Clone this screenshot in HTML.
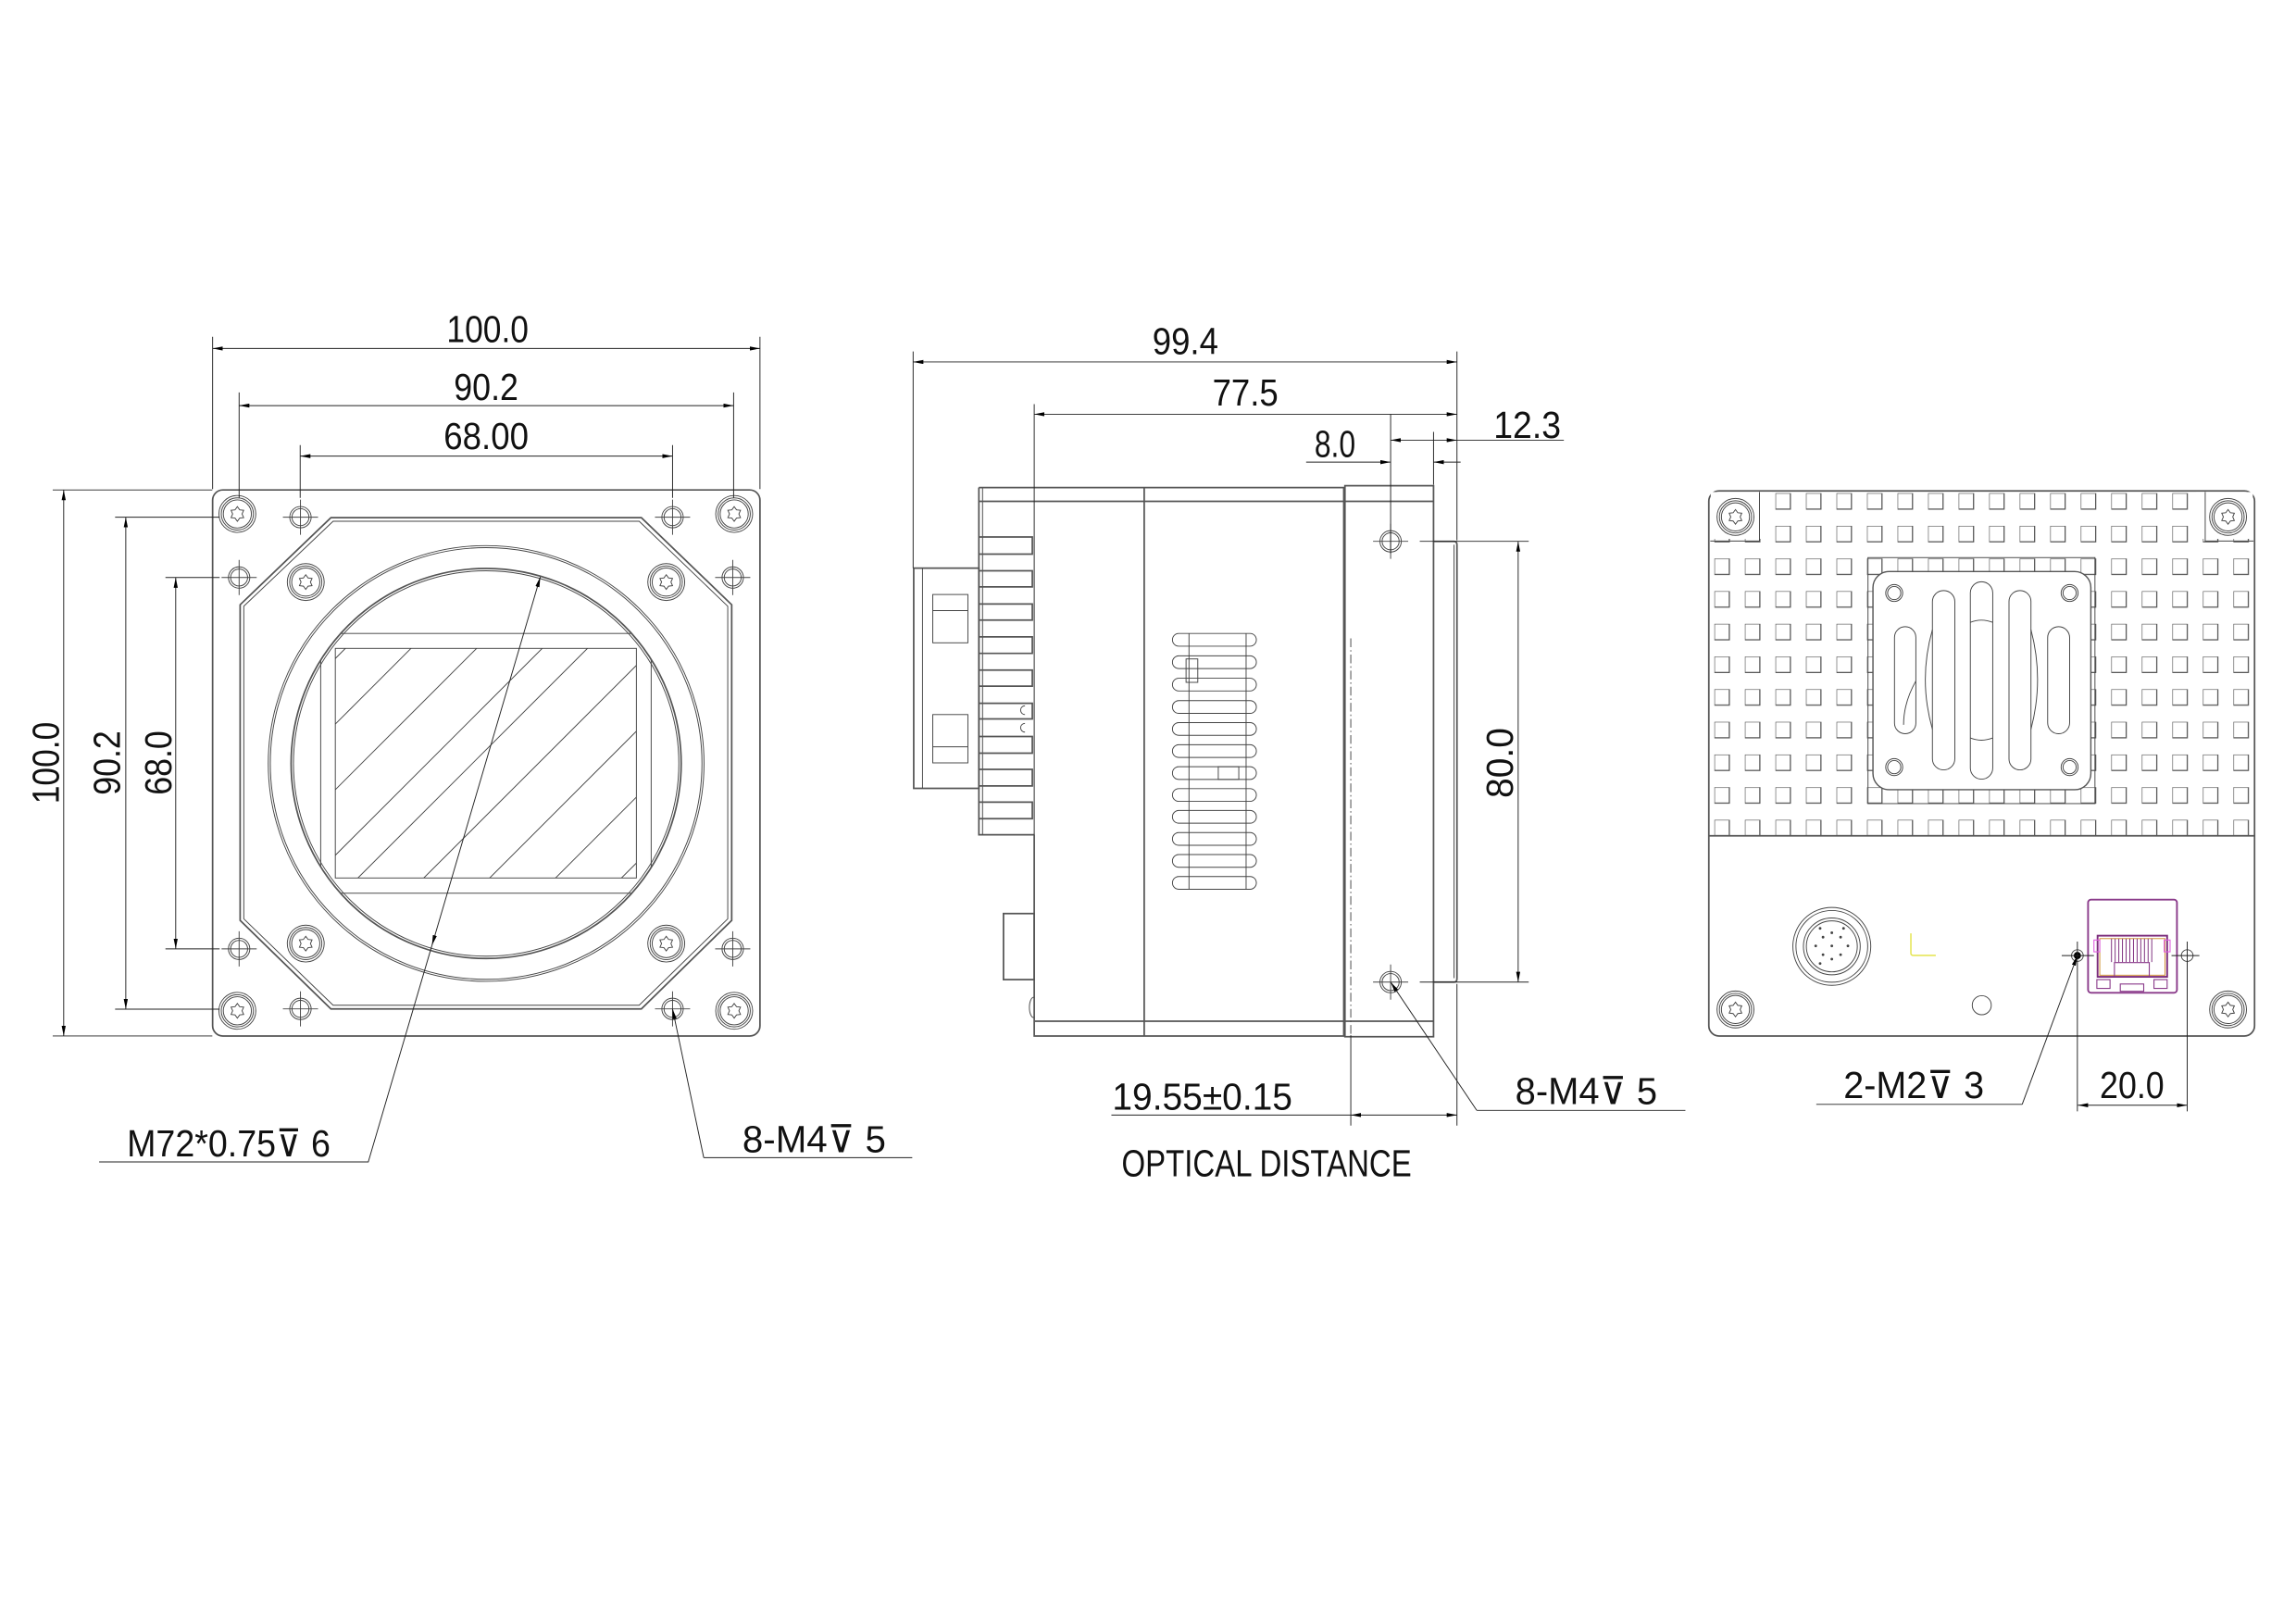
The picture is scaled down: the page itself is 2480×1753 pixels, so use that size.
<!DOCTYPE html>
<html><head><meta charset="utf-8"><style>
html,body{margin:0;padding:0;background:#fff;}
svg{display:block;}
text{font-family:"Liberation Sans","DejaVu Sans",sans-serif;font-size:26px;fill:#111;}
.b{fill:none;stroke:#555;stroke-width:1.1;}
.t{fill:none;stroke:#444;stroke-width:0.6;}
.d{fill:none;stroke:#222;stroke-width:0.6;}
.w{fill:#fff;stroke:#555;stroke-width:0.9;}
</style></head><body>
<svg width="2480" height="1753" viewBox="0 0 1568 1108.4" preserveAspectRatio="none" xmlns="http://www.w3.org/2000/svg">
<defs>
<marker id="a" viewBox="0 0 10 4" refX="10" refY="2" markerWidth="7" markerHeight="2.8" orient="auto-start-reverse" markerUnits="userSpaceOnUse"><path d="M0,0 L10,2 L0,4z" fill="#000"/></marker>
<symbol id="scr" viewBox="-14 -14 28 28" overflow="visible">
<circle r="12.6" class="t"/><circle r="11" class="t"/><circle r="9.6" class="t"/>
<path d="M0,-5 L1.6,-2.8 4.3,-2.5 3.2,0 4.3,2.5 1.6,2.8 0,5 -1.6,2.8 -4.3,2.5 -3.2,0 -4.3,-2.5 -1.6,-2.8z" class="t"/>
</symbol>
<symbol id="hole" viewBox="-14 -14 28 28" overflow="visible">
<circle r="7.3" class="t"/><circle r="5.8" class="t"/><path d="M-12,0H12M0,-12V12" class="t"/>
</symbol>
<pattern id="grid" x="1170.8" y="336.8" width="20.85" height="22.31" patternUnits="userSpaceOnUse">
<rect x="0" y="0" width="10.2" height="10.9" fill="none" stroke="#555" stroke-width="0.8"/>
</pattern>
<clipPath id="cin"><circle cx="332" cy="521.4" r="133"/></clipPath>
<clipPath id="sens"><rect x="229" y="442.8" width="205.6" height="156.8"/></clipPath>
<clipPath id="gclip"><rect x="1168" y="335.5" width="371" height="235.3"/></clipPath>
</defs>

<!-- ================= FRONT VIEW ================= -->
<rect x="145.2" y="334.6" width="373.8" height="372.9" rx="7" class="b" stroke-width="1.4"/>
<path d="M226,353.5 H438 L499.7,413 V628.6 L438,689 H226 L164,628.6 V413 Z" class="b" stroke-width="1.4"/>
<path d="M227.5,356 H436.5 L497,414 V627.5 L436.5,686.5 H227.5 L166.5,627.5 V414 Z" class="t"/>
<circle cx="332" cy="521.4" r="148.8" class="t"/>
<circle cx="332" cy="521.4" r="147.4" class="t"/>
<circle cx="332" cy="521.4" r="133.2" class="b"/>
<circle cx="332" cy="521.4" r="131.6" class="t"/>
<rect x="219" y="432.6" width="225.7" height="177.4" class="t" clip-path="url(#cin)"/>
<rect x="229" y="442.8" width="205.6" height="156.8" class="t"/>
<g clip-path="url(#sens)" class="t">
<path d="M229,449.7 L236,442.7 M229,494.5 L281,442.5 M229,539.3 L326,442.3 M229,584.1 L371,442.1 M244,600 L416,428 M289,600 L461,428 M334,600 L506,428 M379,600 L551,428 M424,600 L596,428"/>
</g>
<!-- corner screws -->
<use href="#scr" x="148.1" y="337" width="28" height="28"/>
<use href="#scr" x="487.4" y="337" width="28" height="28"/>
<use href="#scr" x="148.1" y="676.3" width="28" height="28"/>
<use href="#scr" x="487.4" y="676.3" width="28" height="28"/>
<!-- hex screws -->
<use href="#scr" x="194.8" y="383.5" width="28" height="28"/>
<use href="#scr" x="441" y="383.5" width="28" height="28"/>
<use href="#scr" x="194.8" y="630.4" width="28" height="28"/>
<use href="#scr" x="441" y="630.4" width="28" height="28"/>
<!-- small holes -->
<use href="#hole" x="191.2" y="339.2" width="28" height="28"/>
<use href="#hole" x="445.3" y="339.2" width="28" height="28"/>
<use href="#hole" x="149.3" y="380.4" width="28" height="28"/>
<use href="#hole" x="486.4" y="380.4" width="28" height="28"/>
<use href="#hole" x="149.3" y="634" width="28" height="28"/>
<use href="#hole" x="486.4" y="634" width="28" height="28"/>
<use href="#hole" x="191.2" y="675" width="28" height="28"/>
<use href="#hole" x="445.3" y="675" width="28" height="28"/>
<!-- front dims -->
<path class="d" d="M145.2,230 V334 M519,230 V334 M163.3,268 V340 M501,268 V340 M205,304 V340 M459.3,304 V340"/>
<path class="d" d="M145.2,238 H519" marker-start="url(#a)" marker-end="url(#a)"/>
<path class="d" d="M163.3,277 H501" marker-start="url(#a)" marker-end="url(#a)"/>
<path class="d" d="M205,311.5 H459.3" marker-start="url(#a)" marker-end="url(#a)"/>
<text x="305" y="233.5" textLength="56" lengthAdjust="spacingAndGlyphs">100.0</text>
<text x="310" y="273" textLength="44" lengthAdjust="spacingAndGlyphs">90.2</text>
<text x="303" y="306.7" textLength="58" lengthAdjust="spacingAndGlyphs">68.00</text>
<path class="d" d="M36,334.6 H145 M36,707.5 H145 M78.6,353.2 H150 M78.6,689.2 H150 M113,394.4 H150 M113,648 H150"/>
<path class="d" d="M43.5,334.6 V707.5" marker-start="url(#a)" marker-end="url(#a)"/>
<path class="d" d="M85.9,353.2 V689.2" marker-start="url(#a)" marker-end="url(#a)"/>
<path class="d" d="M120,394.4 V648" marker-start="url(#a)" marker-end="url(#a)"/>
<text transform="translate(40,549) rotate(-90)" textLength="56" lengthAdjust="spacingAndGlyphs">100.0</text>
<text transform="translate(82,543) rotate(-90)" textLength="44" lengthAdjust="spacingAndGlyphs">90.2</text>
<text transform="translate(117,543) rotate(-90)" textLength="44" lengthAdjust="spacingAndGlyphs">68.0</text>
<!-- leaders -->
<path class="d" d="M295,645.6 L369,394" marker-start="url(#a)" marker-end="url(#a)"/>
<path class="d" d="M295,645.6 L251.5,793.5 H67.7"/>
<text x="86.7" y="789.7" textLength="139" lengthAdjust="spacingAndGlyphs">M72*0.75⊽ 6</text>
<path class="d" d="M480.6,790.6 L459.3,689" marker-end="url(#a)"/>
<path class="d" d="M480.6,790.6 H623"/>
<text x="507" y="786.8" textLength="98" lengthAdjust="spacingAndGlyphs">8-M4⊽ 5</text>

<!-- ================= SIDE VIEW ================= -->
<!-- connector block -->
<rect x="624" y="388" width="44.5" height="150.4" class="b"/>
<path class="t" d="M630,388 V538.4"/>
<rect x="637" y="406" width="24" height="33" class="t"/><path class="t" d="M637,417 H661"/>
<rect x="637" y="488" width="24" height="33" class="t"/><path class="t" d="M637,510 H661"/>
<!-- heatsink -->
<path class="b" d="M668.5,333 V570.1 H706.3"/>
<path class="t" d="M671,333 V570"/>
<path class="b" d="M668.5,366.7 H705 V378.4 H668.5 M668.5,389.8 H705 V400.8 H668.5 M668.5,412.5 H705 V423.5 H668.5 M668.5,434.9 H705 V446.2 H668.5 M668.5,457.6 H705 V468.6 H668.5 M668.5,480.3 H705 V491 H668.5 M668.5,503 H705 V514.4 H668.5 M668.5,525.4 H705 V536.7 H668.5 M668.5,547.8 H705 V559.1 H668.5"/>
<path class="t" d="M700,482 a3,3 0 0 0 0,6 M700,494 a3,3 0 0 0 0,6"/>
<!-- body -->
<path class="b" d="M668.5,333 H918.5 M706.3,570 V707.5 H918.5 M668.5,342.4 H979 M706.3,697.4 H979"/>
<path class="b" d="M781.4,333 V707.5" stroke-width="1.6"/>
<path class="b" d="M917.7,333 V707.5" stroke-width="1.6"/>
<rect x="918.5" y="331.7" width="60.5" height="376.3" class="b"/>
<rect x="685.3" y="623.9" width="21" height="45.1" class="b"/>
<path class="t" d="M706,681 a3,7 0 0 0 0,14"/>
<!-- lens mount -->
<path class="b" d="M979,369.7 H993 Q995,369.7 995,372 V668.5 Q995,670.7 993,670.7 H979"/>
<path class="t" d="M993,372 V668"/>
<!-- vents -->
<g class="t">
<rect x="800.7" y="432.6" width="57.3" height="8.7" rx="4.3"/>
<rect x="800.7" y="447.9" width="57.3" height="8.7" rx="4.3"/>
<rect x="800.7" y="463.2" width="57.3" height="8.7" rx="4.3"/>
<rect x="800.7" y="478.5" width="57.3" height="8.7" rx="4.3"/>
<rect x="800.7" y="493.5" width="57.3" height="8.7" rx="4.3"/>
<rect x="800.7" y="508.6" width="57.3" height="8.7" rx="4.3"/>
<rect x="800.7" y="523.6" width="57.3" height="8.7" rx="4.3"/>
<rect x="800.7" y="538.6" width="57.3" height="8.7" rx="4.3"/>
<rect x="800.7" y="553.5" width="57.3" height="8.7" rx="4.3"/>
<rect x="800.7" y="568.6" width="57.3" height="8.7" rx="4.3"/>
<rect x="800.7" y="583.6" width="57.3" height="8.7" rx="4.3"/>
<rect x="800.7" y="598.6" width="57.3" height="8.7" rx="4.3"/>
<path d="M812,432.6 V607.3 M851,432.6 V607.3"/>
<rect x="810" y="450" width="8" height="16"/><rect x="832" y="523.6" width="14" height="8.7"/>
</g>
<!-- holes side -->
<use href="#hole" x="935.7" y="355.7" width="28" height="28"/>
<use href="#hole" x="935.7" y="656.7" width="28" height="28"/>
<path class="t" d="M922.5,436 V707" stroke-dasharray="6,2,1,2"/>
<!-- side dims -->
<path class="d" d="M623.6,240 V388 M995,240 V369 M706.3,276 V570 M949.7,283 V378 M979,295 V331"/>
<path class="d" d="M623.6,247.2 H995" marker-start="url(#a)" marker-end="url(#a)"/>
<path class="d" d="M706.3,282.9 H995" marker-start="url(#a)" marker-end="url(#a)"/>
<path class="d" d="M949.7,300.6 H995" marker-start="url(#a)" marker-end="url(#a)"/>
<path class="d" d="M995,300.6 H1068"/>
<path class="d" d="M892,315.6 H949.7" marker-end="url(#a)"/>
<path class="d" d="M997.5,315.6 H979" marker-end="url(#a)"/>
<text x="787" y="242" textLength="45" lengthAdjust="spacingAndGlyphs">99.4</text>
<text x="828" y="277" textLength="45" lengthAdjust="spacingAndGlyphs">77.5</text>
<text x="897.7" y="312" textLength="28" lengthAdjust="spacingAndGlyphs">8.0</text>
<text x="1020" y="299" textLength="46" lengthAdjust="spacingAndGlyphs">12.3</text>
<path class="d" d="M969.6,369.7 H1044 M969.6,670.7 H1044"/>
<path class="d" d="M1036.8,369.7 V670.7" marker-start="url(#a)" marker-end="url(#a)"/>
<text transform="translate(1033,545) rotate(-90)" textLength="48" lengthAdjust="spacingAndGlyphs">80.0</text>
<path class="d" d="M922.5,707 V768.7 M995,672 V768.7"/>
<path class="d" d="M759,761.5 H922.5"/>
<path class="d" d="M922.5,761.5 H995" marker-start="url(#a)" marker-end="url(#a)"/>
<text x="759.6" y="757.7" textLength="123" lengthAdjust="spacingAndGlyphs">19.55±0.15</text>
<text x="766" y="803.4" textLength="198" lengthAdjust="spacingAndGlyphs">OPTICAL DISTANCE</text>
<path class="d" d="M1008.5,758.3 L949.7,670.7" marker-end="url(#a)"/>
<path class="d" d="M1008.5,758.3 H1151"/>
<text x="1034.8" y="754" textLength="97" lengthAdjust="spacingAndGlyphs">8-M4⊽ 5</text>

<!-- ================= BACK VIEW ================= -->
<rect x="1167" y="335.3" width="372.7" height="372.2" rx="7" class="b" stroke-width="1.4"/>
<rect x="1168" y="335.5" width="371" height="235.3" fill="url(#grid)" clip-path="url(#gclip)"/>
<rect x="1168.3" y="336" width="42" height="32" fill="#fff"/>
<rect x="1500" y="336" width="38.5" height="32" fill="#fff"/>
<path class="t" d="M1168,369.5 H1201.6 V336 M1539,369.5 H1506 V336"/>
<path class="b" d="M1167,570.8 H1539.7"/>
<use href="#scr" x="1171.2" y="339" width="28" height="28"/>
<use href="#scr" x="1507.6" y="339" width="28" height="28"/>
<use href="#scr" x="1171.2" y="675.4" width="28" height="28"/>
<use href="#scr" x="1507.6" y="675.4" width="28" height="28"/>
<!-- fan plate -->
<rect x="1275.7" y="380.8" width="155" height="168" class="t" fill="#fff"/>
<rect x="1279.1" y="390.3" width="148.8" height="149" rx="11" class="w"/>
<g class="t">
<circle cx="1293.6" cy="405" r="5.8"/><circle cx="1293.6" cy="405" r="4.5"/>
<circle cx="1413.4" cy="405" r="5.8"/><circle cx="1413.4" cy="405" r="4.5"/>
<circle cx="1293.6" cy="523.9" r="5.8"/><circle cx="1293.6" cy="523.9" r="4.5"/>
<circle cx="1413.4" cy="523.9" r="5.8"/><circle cx="1413.4" cy="523.9" r="4.5"/>
<rect x="1293.8" y="428" width="14.6" height="73.1" rx="7.3"/>
<rect x="1319.7" y="403.3" width="15.3" height="122.5" rx="7.6"/>
<rect x="1345.6" y="397.3" width="15.3" height="134.8" rx="7.6"/>
<rect x="1372" y="403.3" width="15" height="122.5" rx="7.5"/>
<rect x="1398.4" y="428" width="15" height="73.1" rx="7.5"/>
<path d="M1319.7,430 Q1310,464 1319.7,498 M1387,430 Q1396,464 1387,498 M1345.6,425 Q1353,422 1360.9,425 M1345.6,504 Q1353,507 1360.9,504 M1308.4,465 Q1300,480 1300,495"/>
</g>
<!-- connector -->
<g class="t">
<circle cx="1251" cy="646.3" r="26.6"/><circle cx="1251" cy="646.3" r="24.5"/>
<circle cx="1251" cy="646.3" r="19.4"/><circle cx="1251" cy="646.3" r="17.4"/>
<circle cx="1353.4" cy="686.5" r="6.5"/>
</g>
<g fill="#444">
<circle cx="1251" cy="646" r="0.9"/><circle cx="1245" cy="640" r="0.9"/><circle cx="1257" cy="640" r="0.9"/>
<circle cx="1245" cy="652" r="0.9"/><circle cx="1257" cy="652" r="0.9"/><circle cx="1240" cy="646" r="0.9"/>
<circle cx="1262" cy="646" r="0.9"/><circle cx="1251" cy="637" r="0.9"/><circle cx="1251" cy="655" r="0.9"/>
<circle cx="1243" cy="634" r="0.9"/><circle cx="1259" cy="634" r="0.9"/><circle cx="1243" cy="658" r="0.9"/>
</g>
<path d="M1305,637.4 V651 Q1305,652.5 1307,652.5 H1322" fill="none" stroke="#e6e65a" stroke-width="1"/>
<!-- RJ45 -->
<rect x="1426" y="614.4" width="60.7" height="63.6" rx="2" fill="none" stroke="#8a3a8a" stroke-width="1.2"/>
<rect x="1432.5" y="639" width="47.5" height="28.1" fill="none" stroke="#7a2a7a" stroke-width="1.2"/>
<rect x="1434" y="641" width="44.5" height="25" fill="none" stroke="#d09030" stroke-width="0.6"/>
<path d="M1442,641 V657 M1444.5,641 V657 M1447,641 V657 M1449.5,641 V657 M1452,641 V657 M1454.5,641 V657 M1457,641 V657 M1459.5,641 V657 M1462,641 V657 M1464.5,641 V657 M1467,641 V657 M1469.5,641 V657" stroke="#7a2a7a" stroke-width="0.6"/>
<path d="M1444,667 V657.4 H1467.8 V667 M1448,672 H1464 V677 H1448 Z M1432,669 H1441 V675 H1432Z M1471,669 H1480 V675 H1471Z" fill="none" stroke="#8a3a8a" stroke-width="0.7"/>
<path d="M1430,642 H1434 V650 H1430 Z M1478,642 H1482 V650 H1478Z" fill="none" stroke="#e060e0" stroke-width="0.7"/>
<circle cx="1418.7" cy="652.6" r="4" class="t"/><circle cx="1418.7" cy="652.6" r="2.5" fill="#000"/>
<circle cx="1493.7" cy="652.6" r="4" class="t"/>
<path class="d" d="M1408,652.6 H1430 M1418.7,643 V759 M1483,652.6 H1502 M1493.7,643 V759"/>
<path class="d" d="M1419,754.8 H1493.7" marker-start="url(#a)" marker-end="url(#a)"/>
<text x="1434" y="750" textLength="44" lengthAdjust="spacingAndGlyphs">20.0</text>
<path class="d" d="M1381,754.2 L1418.7,652.6" marker-end="url(#a)"/>
<path class="d" d="M1381,754.2 H1240.4"/>
<text x="1259" y="750" textLength="96" lengthAdjust="spacingAndGlyphs">2-M2⊽ 3</text>
</svg>
</body></html>
